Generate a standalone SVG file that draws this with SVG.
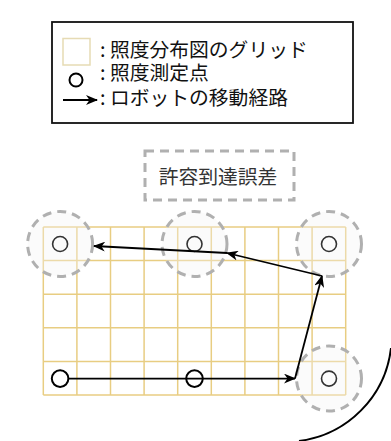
<svg xmlns="http://www.w3.org/2000/svg" width="391" height="441" viewBox="0 0 391 441">
  <defs>
    <marker id="arrow" viewBox="0 0 12 10" refX="11" refY="5" markerWidth="12" markerHeight="10" markerUnits="userSpaceOnUse" orient="auto">
      <path d="M0,0 L12,5 L0,10 L3.5,5 Z" fill="#000"/>
    </marker>
    <style>
      .txt { font-family: "Noto Sans CJK JP", "Noto Sans", sans-serif; font-size: 19.8px; fill: #111; }
      .grid line { stroke: #e8cd82; stroke-width: 1.5; }
      .tol { fill: #f3f3f3; fill-opacity: 0.35; stroke: #b0b0b0; stroke-width: 3; stroke-dasharray: 9 6; }
      .pt { fill: none; stroke: #333; stroke-width: 1.6; }
      .pt-dark { fill: none; stroke: #000; stroke-width: 2; }
      .edge { fill: none; stroke: #000; stroke-width: 1.8; marker-end: url(#arrow); }
    </style>
  </defs>
  <rect width="391" height="441" fill="#fff"/>

  <g id="legend">
    <rect x="52" y="22" width="301" height="101" fill="#fff" stroke="#111" stroke-width="1.8"/>
    <rect x="63" y="38.5" width="27" height="26.5" fill="#fff" stroke="#e6dbb4" stroke-width="1.5"/>
    <circle cx="76" cy="80" r="6.5" fill="none" stroke="#000" stroke-width="2"/>
    <line x1="63" y1="100" x2="97" y2="100" class="edge"/>
    <text class="txt"><tspan x="100" y="56.5">: 照度分布図のグリッド</tspan><tspan x="100" y="79.5">: 照度測定点</tspan><tspan x="100" y="104.5">: ロボットの移動経路</tspan></text>
  </g>

  <g id="tolerance-label">
    <rect x="145" y="151" width="149" height="49" fill="#fff" stroke="#b0b0b0" stroke-width="3" stroke-dasharray="9 6"/>
    <text class="txt" x="218" y="183.5" text-anchor="middle" style="fill:#333">許容到達誤差</text>
  </g>

  <g id="grid" class="grid">
    <line x1="43.3" y1="227" x2="345.7" y2="227"/>
    <line x1="43.3" y1="260.6" x2="345.7" y2="260.6"/>
    <line x1="43.3" y1="294.2" x2="345.7" y2="294.2"/>
    <line x1="43.3" y1="327.8" x2="345.7" y2="327.8"/>
    <line x1="43.3" y1="361.4" x2="345.7" y2="361.4"/>
    <line x1="43.3" y1="395" x2="345.7" y2="395"/>
    <line x1="43.3" y1="227" x2="43.3" y2="395"/>
    <line x1="76.9" y1="227" x2="76.9" y2="395"/>
    <line x1="110.5" y1="227" x2="110.5" y2="395"/>
    <line x1="144.1" y1="227" x2="144.1" y2="395"/>
    <line x1="177.7" y1="227" x2="177.7" y2="395"/>
    <line x1="211.3" y1="227" x2="211.3" y2="395"/>
    <line x1="244.9" y1="227" x2="244.9" y2="395"/>
    <line x1="278.5" y1="227" x2="278.5" y2="395"/>
    <line x1="312.1" y1="227" x2="312.1" y2="395"/>
    <line x1="345.7" y1="227" x2="345.7" y2="395"/>
  </g>

  <g id="tolerance-circles">
    <circle id="tol-tl" class="tol" cx="60.1" cy="244" r="32.5"/>
    <circle id="tol-tm" class="tol" cx="194.5" cy="244" r="32.5"/>
    <circle id="tol-tr" class="tol" cx="329" cy="244" r="32.5"/>
    <circle id="tol-br" class="tol" cx="329" cy="378.5" r="32.5"/>
  </g>

  <g id="points">
    <circle id="p-tl" class="pt" cx="60.1" cy="244" r="7.5"/>
    <circle id="p-tm" class="pt" cx="194.5" cy="244" r="7.5"/>
    <circle id="p-tr" class="pt" cx="329" cy="244" r="7.5"/>
    <circle id="p-bl" class="pt-dark" cx="60.1" cy="378.6" r="8.3"/>
    <circle id="p-bm" class="pt-dark" cx="194.5" cy="378.6" r="8.3"/>
    <circle id="p-br" class="pt" cx="329" cy="378.6" r="7.5"/>
  </g>

  <g id="connectors">
    <line class="edge" x1="68.4" y1="378.6" x2="295" y2="378.6"/>
    <line class="edge" x1="295" y1="378.6" x2="322" y2="276"/>
    <line class="edge" x1="322" y1="276" x2="227" y2="253"/>
    <line class="edge" x1="227" y1="253" x2="94" y2="246"/>
  </g>

  <g id="arc">
    <path d="M391,348 A106,106 0 0 1 299,441" fill="none" stroke="#000" stroke-width="2"/>
  </g>
</svg>
